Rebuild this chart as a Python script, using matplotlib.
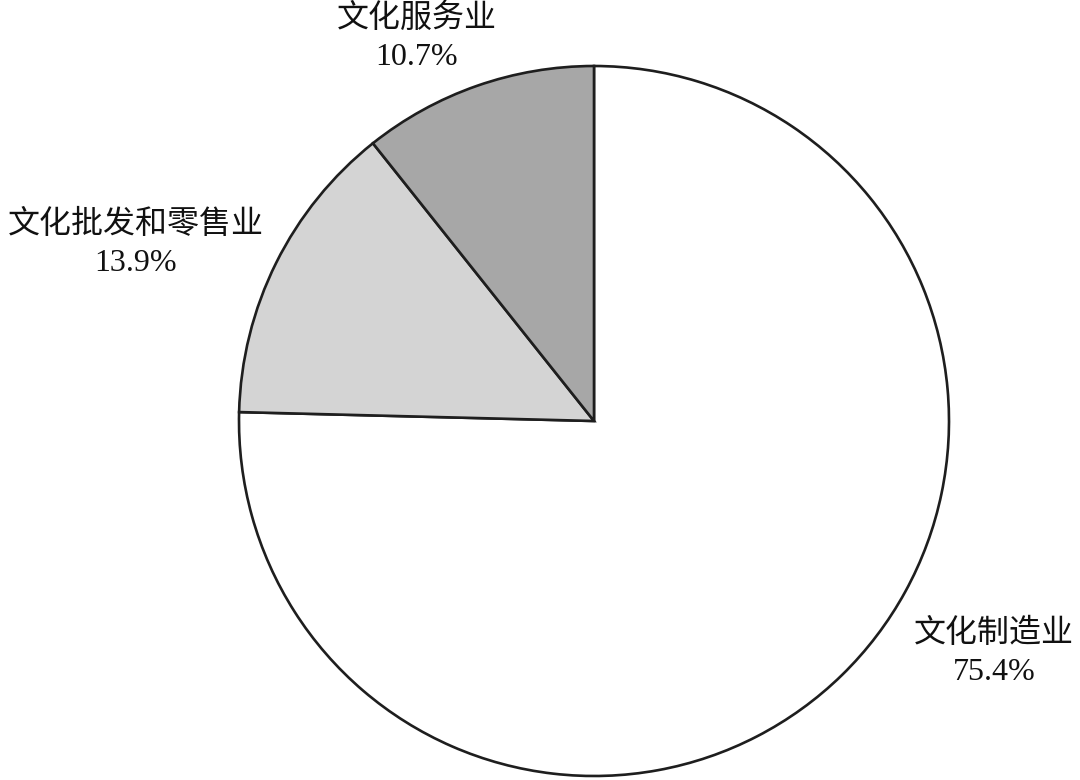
import matplotlib.pyplot as plt

categories = ['文化制造业', '文化批发和零售业', '文化服务业']
shares = [75.4, 13.9, 10.7]
colors = ['#ffffff', '#d4d4d4', '#a7a7a7']

# label anchor points, in pixels from the top-left corner
label_pos = [(994, 653), (136, 244), (417, 38)]

fig = plt.figure(figsize=(10.8, 7.8), dpi=100)
ax = fig.add_axes([0, 0, 1, 1])

ax.pie(shares, colors=colors, startangle=90, counterclock=False,
       center=(594, 780 - 421), radius=355, frame=True,
       wedgeprops=dict(edgecolor='#1e1e1e', linewidth=1.9))
ax.set_xlim(0, 1080)
ax.set_ylim(0, 780)
ax.set_aspect('equal')
ax.axis('off')

for name, val, (x, y) in zip(categories, shares, label_pos):
    ax.text(x, 780 - y, f'{name}\n{val:.1f}%', ha='center', va='center',
            fontsize=23, linespacing=1.4, color='#111111',
            family=['Liberation Serif', 'Noto Sans CJK SC'])

fig.savefig('out.png', dpi=100)
